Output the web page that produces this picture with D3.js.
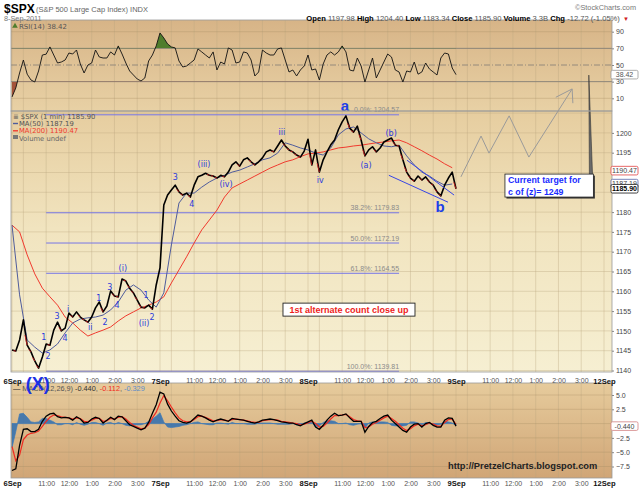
<!DOCTYPE html>
<html><head><meta charset="utf-8">
<script src="https://cdn.jsdelivr.net/npm/d3@7"></script>
<style>body{margin:0;background:#fff}svg{display:block}</style>
</head><body>
<svg id="c" width="640" height="488"></svg>
<script>
// ---------------- DATA ----------------
const dayLabels = ["6Sep","7Sep","8Sep","9Sep","12Sep"];
const hourLabels = ["11:00","12:00","1:00","2:00","3:00"];
const hourOffsets = [90,150,210,270,330];      // minutes after the 9:30 open
const gridOffsets = [0,30,90,150,210,270,330];
const SESSION = 390, BAR_STEP = 10, MA_STEP = 20;

// $SPX close, sampled every 10 trading minutes from 6 Sep 9:30
const spxClose = [
1145.2,1144.9,1147.7,1152.8,1146.4,1144.7,1142.4,1140.6,1143.4,1146.7,
1146.4,1150.2,1152.2,1150.0,1150.7,1154.5,1153.5,1154.8,1153.5,1152.8,
1152.2,1153.5,1155.8,1157.3,1154.8,1156.3,1160.1,1158.8,1158.6,1163.1,
1162.6,1160.8,1159.6,1157.8,1156.0,1155.8,1156.5,1155.5,1161.6,1165.9,
1181.8,1184.3,1185.6,1186.8,1185.1,1184.3,1184.8,1183.8,1186.8,1188.9,
1189.3,1189.8,1189.3,1189.1,1188.6,1189.3,1188.9,1190.1,1191.9,1192.7,
1191.6,1193.2,1193.7,1192.7,1191.9,1192.7,1193.7,1195.2,1195.7,1195.2,
1196.7,1198.2,1196.7,1195.7,1195.2,1194.4,1193.9,1195.4,1198.4,
1191.9,1195.7,1190.1,1193.2,1195.2,1197.0,1198.2,1200.8,1202.8,1204.3,
1201.2,1200.2,1201.7,1198.2,1194.2,1195.7,1196.5,1195.2,1196.2,1197.7,
1198.2,1198.7,1196.9,1196.7,1193.2,1190.1,1188.6,1187.8,1189.1,1188.1,
1188.9,1187.6,1186.8,1185.1,1184.1,1186.8,1188.6,1190.1,1185.9];

// moving averages, every 20 trading minutes
const ma50 = [
1176.7,1159.1,1147.7,1145.9,1144.4,1145.2,1146.7,1149.5,1152.0,1153.0,
1153.3,1153.5,1154.0,1155.3,1157.3,1160.3,1161.6,1160.3,1157.8,1156.0,
1159.6,1171.7,1182.3,1184.8,1184.8,1186.3,1187.6,1188.6,1189.3,1190.1,
1190.6,1191.4,1192.2,1193.2,1193.7,1194.9,1197.5,1196.9,1196.2,1195.7,
1194.9,1194.4,1196.2,1199.5,1201.0,1201.5,1200.0,1198.5,1197.5,1196.7,
1196.5,1196.9,1194.2,1191.9,1190.1,1189.1,1187.8,1186.8,1187.1];
const ma200 = [
1176.7,1175.0,1169.2,1164.4,1160.8,1158.6,1156.5,1153.5,1152.0,1150.2,
1148.7,1149.5,1150.2,1151.0,1152.5,1153.8,1154.8,1155.8,1156.5,1157.3,
1158.6,1162.1,1165.4,1168.7,1172.2,1175.5,1178.0,1180.5,1183.8,1186.1,
1187.1,1188.1,1189.1,1190.1,1191.1,1191.9,1192.7,1193.2,1194.0,1194.7,
1194.9,1195.2,1195.7,1196.2,1196.4,1196.7,1196.9,1197.2,1197.5,1197.7,
1198.0,1198.2,1197.5,1196.5,1195.5,1194.4,1193.4,1192.2,1191.2];

// RSI(14), every 10 trading minutes
const rsi14 = [
11.6,22.4,40.4,56,39,32,29.6,42.8,62,63,
71.7,62,52.4,53.6,56,64.4,63.2,68,51.2,40.4,
50,52.4,68,59.6,58.4,58.4,65.7,62,72.9,63.2,
52.4,42.8,38,33.2,30.8,34.4,54.8,62,72.9,88.5,
82.5,75.3,71.7,70.5,54.8,47.6,48.8,52.4,56,69.3,
65.7,62,58.4,65.7,44,53.6,51.2,70.5,68,52.4,
53.6,65.7,64.4,56,36.8,41.6,68,64.4,62,62,
69.3,70.5,56,41.6,44,36.8,44,48.8,62,44,
45.2,32,51.2,62,65.7,62,65.7,72.9,65.7,44,
42.8,58.4,48.8,29.6,44,58.4,34.4,44,53.6,63.2,
59.6,44,41.6,29.6,42.8,41.6,53.6,39,41.6,52.4,
45.2,41.6,38,58.4,64.4,63.2,46.4,38.42];

// MACD(12,26,9), every 10 trading minutes
const macdLine = [
-8.2,-7.9,-3.8,-1.0,-0.9,-1.4,-1.4,-1.0,0.4,1.3,
1.7,1.8,1.2,1.0,1.1,1.0,0.6,1.2,0.8,0.1,
0.2,0.8,1.1,0.9,0.1,0.6,1.1,0.7,1.3,1.2,
0.5,-0.2,-0.5,-0.8,-1.1,-0.8,0.2,1.8,3.3,5.5,
5.2,3.4,2.2,1.3,0.5,0.2,0.1,0.3,0.9,1.5,
1.3,1.0,0.6,0.3,0.6,0.8,0.6,0.4,0.9,0.8,
0.7,0.6,0.4,0.2,0.1,0.3,0.6,0.7,0.8,0.7,
0.5,0.3,0.2,0.1,0.1,-0.2,-0.4,0.0,0.3,0.6,
-0.6,-1.0,-0.3,0.6,1.3,1.8,1.4,1.5,1.7,1.0,
0.4,0.4,0.4,-1.5,-0.5,0.2,0.4,0.9,1.3,1.5,
0.6,0.0,-0.6,-1.2,-1.5,-0.6,-0.1,0.0,-0.6,0.0,
0.2,-0.3,-0.6,-0.6,0.6,1.0,0.9,-0.44];
const macdSignal = [
-4.0,-6.5,-5.5,-2.8,-2.0,-1.7,-1.6,-1.3,-0.5,0.4,
1.1,1.5,1.4,1.2,1.1,1.0,0.8,1.0,0.9,0.4,
0.3,0.6,0.9,0.9,0.4,0.5,0.9,0.8,1.1,1.2,
0.8,0.2,-0.3,-0.6,-0.9,-0.8,-0.2,1.0,2.0,3.6,
4.9,4.0,2.9,1.9,1.0,0.5,0.3,0.3,0.7,1.2,
1.3,1.1,0.8,0.5,0.5,0.7,0.6,0.5,0.7,0.8,
0.7,0.6,0.5,0.3,0.2,0.2,0.5,0.6,0.7,0.7,
0.6,0.4,0.3,0.2,0.1,0.0,-0.2,-0.1,0.1,0.4,
0.0,-0.6,-0.5,0.1,0.8,1.4,1.4,1.5,1.6,1.2,
0.7,0.5,0.4,-0.7,-0.6,-0.1,0.2,0.6,1.0,1.3,
0.9,0.4,-0.2,-0.8,-1.2,-0.9,-0.4,-0.1,-0.4,-0.2,
0.1,-0.1,-0.4,-0.5,0.2,0.7,0.8,-0.11];

// 1185 and 1190 labels sit under the value boxes in the reference
const priceTicks = [1140,1145,1150,1155,1160,1165,1170,1175,1180,1195,1200];
const priceGrid  = [1140,1145,1150,1155,1160,1165,1170,1175,1180,1185,1190,1195,1200,1205];
const rsiTicks = [10,30,50,70,90];
const macdTicks = [5.0,2.5,-2.5,-5.0,-7.5];
const macdGrid = [5.0,2.5,0,-2.5,-5.0,-7.5];

const fibPct = ["0.0%","38.2%","50.0%","61.8%","100.0%"];
const fibVal = [1204.57,1179.83,1172.19,1164.55,1139.81];
const fibFrom = 90, fibTo = 1020;

const waveText  = ["1","2","3","4","i","ii","1","2","3","4","(i)","(ii)","1","2","3","4","(iii)","(iv)","iii","iv","(a)","(b)"];
const waveTime  = [84,95,119,140,148,206,229,245,258,277,292,348,353,369,430,474,506,564,711,812,933,999];
const wavePrice = [1148.5,1143.7,1153.8,1148.2,1155.5,1151.0,1158.3,1152.2,1161.1,1156.5,1165.9,1152.0,1159.1,1153.5,1188.9,1182.0,1192.1,1187.1,1200.2,1188.1,1191.9,1200.0];
const bigText = ["a","b"], bigTime = [877,1128], bigPrice = [1206.8,1181.3];

const chanLower = [[993,1189.3],[1149,1182.5]];
const chanUpper = [[1041,1193.1],[1165,1184.3]];
const projTime  = [1183,1236,1257,1310,1362,1476];
const projPrice = [1188.9,1199.2,1194.9,1204.3,1193.9,1211.1];
const arrowBarbs = [[1433,1209.0],[1476,1211.1],[1478,1207.5]];

// ---------------- LAYOUT ----------------
const svg = d3.select("#c");
const L = 11, R = 612;
const P = {rsi:[20,111], main:[111,372], macd:[383,478]};
const x  = d3.scaleLinear().domain([0,1560]).range([12,604]);
const yP = d3.scaleLinear().domain([1140,1200]).range([370.5,132.9]);
const yR = d3.scaleLinear().domain([10,90]).range([98.3,31.7]);
const yM = d3.scaleLinear().domain([-7.5,5]).range([466.5,395]);
const FS = "DejaVu Sans, Verdana, sans-serif";
const FA = "Liberation Sans, Arial, sans-serif";

const defs = svg.append("defs");
function grad(id, stops){
  const g = defs.append("linearGradient").attr("id",id).attr("x1",0).attr("x2",0).attr("y1",0).attr("y2",1);
  stops.forEach(s=>g.append("stop").attr("offset",s[0]).attr("stop-color",s[1]));
}
grad("gR",[[0,"#d7b487"],[1,"#e8d1a5"]]);
grad("gM",[[0,"#e6cd9f"],[0.45,"#f1e4bf"],[1,"#f6efd2"]]);
grad("gC",[[0,"#e6cb9c"],[1,"#d0a576"]]);

[["rsi","gR"],["main","gM"],["macd","gC"]].forEach(([k,g])=>{
  svg.append("rect").attr("x",L).attr("y",P[k][0]).attr("width",R-L).attr("height",P[k][1]-P[k][0])
     .attr("fill",`url(#${g})`);
});

// vertical gridlines
const vTimes = [];
dayLabels.forEach((d,i)=>{ (i<4?gridOffsets:[0]).forEach(o=>vTimes.push(i*SESSION+o)); });
Object.keys(P).forEach(k=>{
  svg.append("g").selectAll("line").data(vTimes).join("line")
    .attr("x1",d=>x(d)).attr("x2",d=>x(d)).attr("y1",P[k][0]).attr("y2",P[k][1])
    .attr("stroke","#b9a47e").attr("stroke-opacity",0.45).attr("stroke-width",0.8);
});

// horizontal gridlines
svg.append("g").selectAll("line").data(priceGrid).join("line")
  .attr("x1",L).attr("x2",R).attr("y1",d=>yP(d)).attr("y2",d=>yP(d))
  .attr("stroke","#b9a47e").attr("stroke-opacity",0.45).attr("stroke-width",0.8);
svg.append("g").selectAll("line").data(macdGrid).join("line")
  .attr("x1",L).attr("x2",R).attr("y1",d=>yM(d)).attr("y2",d=>yM(d))
  .attr("stroke","#a88f66").attr("stroke-opacity",0.45).attr("stroke-width",0.8);
svg.append("g").selectAll("line").data([10,90]).join("line")
  .attr("x1",L).attr("x2",R).attr("y1",d=>yR(d)).attr("y2",d=>yR(d))
  .attr("stroke","#a88f66").attr("stroke-opacity",0.45).attr("stroke-width",0.8);
svg.append("g").selectAll("line").data([30,70]).join("line")
  .attr("x1",L).attr("x2",R).attr("y1",d=>yR(d)).attr("y2",d=>yR(d))
  .attr("stroke","#8c8578").attr("stroke-width",1);
svg.append("line").attr("x1",L).attr("x2",R).attr("y1",yR(50)).attr("y2",yR(50))
  .attr("stroke","#8c8578").attr("stroke-width",0.9).attr("stroke-dasharray","6,2,1,2");

// ---------------- RSI ----------------
const tx = (d,i)=>x(i*BAR_STEP);
defs.append("clipPath").attr("id","ab70").append("rect").attr("x",L).attr("y",P.rsi[0]).attr("width",R-L).attr("height",yR(70)-P.rsi[0]);
defs.append("clipPath").attr("id","be30").append("rect").attr("x",L).attr("y",yR(30)).attr("width",R-L).attr("height",P.rsi[1]-yR(30));
svg.append("path").datum(rsi14).attr("clip-path","url(#ab70)").attr("fill","#4f7d2c")
  .attr("d",d3.area().x(tx).y0(yR(70)).y1(d=>yR(d)));
svg.append("path").datum(rsi14).attr("clip-path","url(#be30)").attr("fill","#a4533a")
  .attr("d",d3.area().x(tx).y0(yR(30)).y1(d=>yR(d)));
svg.append("path").datum(rsi14).attr("fill","none").attr("stroke","#111").attr("stroke-width",0.9)
  .attr("d",d3.line().x(tx).y(d=>yR(d)));
svg.append("path").attr("d",d3.symbol(d3.symbolTriangle,14)()).attr("transform","translate(15,26)").attr("fill","#4f7d2c");
svg.append("text").attr("x",19).attr("y",28.5).attr("font-family",FS).attr("font-size",7).attr("fill","#555").text("RSI(14) 38.42");

// ---------------- MAIN ----------------
// Fibonacci lines
svg.append("g").selectAll("line").data(fibVal).join("line")
  .attr("x1",x(fibFrom)).attr("x2",x(fibTo)).attr("y1",d=>yP(d)).attr("y2",d=>yP(d))
  .attr("stroke","#7676e6").attr("stroke-width",1);
svg.append("g").selectAll("text").data(fibVal).join("text")
  .attr("x",x(fibTo)).attr("y",d=>yP(d)-2.5).attr("text-anchor","end")
  .attr("font-family",FA).attr("font-size",7).attr("fill","#8a8a8a")
  .text((d,i)=>`${fibPct[i]}: ${d.toFixed(2)}`);

const mx = (d,i)=>x(i*MA_STEP);
svg.append("path").datum(ma200).attr("fill","none").attr("stroke","#f03a2e").attr("stroke-width",1)
  .attr("d",d3.line().x(mx).y(d=>yP(d)));
svg.append("path").datum(ma50).attr("fill","none").attr("stroke","#4f5c9c").attr("stroke-width",1)
  .attr("d",d3.line().x(mx).y(d=>yP(d)));

// price
svg.append("path").datum(spxClose).attr("fill","none").attr("stroke","#000").attr("stroke-width",1.6)
  .attr("stroke-linejoin","round").attr("d",d3.line().x(tx).y(d=>yP(d)));
const downs = spxClose.map((d,i)=>i).filter(i=>i>0 && spxClose[i]<spxClose[i-1]);
svg.append("g").selectAll("line").data(downs).join("line")
  .attr("x1",i=>x((i-1)*BAR_STEP)+0.4*(x(BAR_STEP)-x(0))).attr("x2",i=>x(i*BAR_STEP))
  .attr("y1",i=>yP(spxClose[i-1]+0.6*(spxClose[i]-spxClose[i-1]))).attr("y2",i=>yP(spxClose[i]))
  .attr("stroke","#e02020").attr("stroke-width",0.8);

// channel lines
[chanLower,chanUpper].forEach(c=>{
  svg.append("line").attr("x1",x(c[0][0])).attr("y1",yP(c[0][1])).attr("x2",x(c[1][0])).attr("y2",yP(c[1][1]))
    .attr("stroke","#3846e6").attr("stroke-width",1);
});

// projection path
svg.append("path").datum(projTime).attr("fill","none").attr("stroke","#9a9a9a").attr("stroke-width",1)
  .attr("d",d3.line().x(d=>x(d)).y((d,i)=>yP(projPrice[i])));
svg.append("path").datum(arrowBarbs).attr("fill","none").attr("stroke","#9a9a9a").attr("stroke-width",1)
  .attr("d",d3.line().x(d=>x(d[0])).y(d=>yP(d[1])));

// wave labels
svg.append("g").selectAll("text").data(waveText).join("text")
  .attr("x",(d,i)=>x(waveTime[i])).attr("y",(d,i)=>yP(wavePrice[i])+3)
  .attr("text-anchor","middle").attr("font-family",FS).attr("font-size",8).attr("fill","#2b3bdc").text(d=>d);
svg.append("g").selectAll("text").data(bigText).join("text")
  .attr("x",(d,i)=>x(bigTime[i])).attr("y",(d,i)=>yP(bigPrice[i])+5)
  .attr("text-anchor","middle").attr("font-family",FA).attr("font-size",15).attr("font-weight","bold").attr("fill","#2040e8").text(d=>d);

// legend
const leg = svg.append("g").attr("font-family",FS).attr("font-size",6.8);
leg.append("text").attr("x",13).attr("y",118.5).attr("fill","#555").text("\u2263 $SPX (1 min) 1185.90");
leg.append("line").attr("x1",13).attr("x2",18).attr("y1",123.5).attr("y2",123.5).attr("stroke","#4f5c9c").attr("stroke-width",1.4);
leg.append("text").attr("x",19).attr("y",126).attr("fill","#555").text("MA(50) 1187.19");
leg.append("line").attr("x1",13).attr("x2",18).attr("y1",130.8).attr("y2",130.8).attr("stroke","#f03a2e").attr("stroke-width",1.4);
leg.append("text").attr("x",19).attr("y",133.3).attr("fill","#f03a2e").text("MA(200) 1190.47");
leg.append("rect").attr("x",13).attr("y",135).attr("width",5).attr("height",4).attr("fill","#777");
leg.append("text").attr("x",19).attr("y",140.5).attr("fill","#666").text("Volume undef");

// "1st alternate count" box
const altX = x(888), altY = yP(1155.5);
svg.append("rect").attr("x",altX-66).attr("y",altY-6).attr("width",132).attr("height",13)
  .attr("fill","#fff").attr("stroke","#222").attr("stroke-width",0.9);
svg.append("text").attr("x",altX).attr("y",altY+3.5).attr("text-anchor","middle").attr("font-family",FA)
  .attr("font-weight","bold").attr("font-size",9).attr("fill","#ee1c1c").text("1st alternate count close up");

// callout
const cx0 = x(1299), cx1 = x(1532), cy0 = yP(1189.6), cy1 = yP(1183.8);
const tip = [x(1520), yP(1214.6)];
svg.append("polygon").attr("points",`${tip[0]},${tip[1]} ${cx1-4},${cy0} ${cx1},${cy1}`)
  .attr("fill","#6a6a6a").attr("stroke","#333").attr("stroke-width",0.6);
svg.append("rect").attr("x",cx0+1.5).attr("y",cy0+1.5).attr("width",cx1-cx0).attr("height",cy1-cy0).attr("fill","#333");
svg.append("rect").attr("x",cx0).attr("y",cy0).attr("width",cx1-cx0).attr("height",cy1-cy0)
  .attr("fill","#fff").attr("stroke","#222").attr("stroke-width",0.8);
svg.append("text").attr("x",cx0+3).attr("y",cy0+9).attr("font-family",FA).attr("font-weight","bold").attr("font-size",8.8)
  .attr("fill","#1a2cff").text("Current target for");
svg.append("text").attr("x",cx0+3).attr("y",cy0+20.5).attr("font-family",FA).attr("font-weight","bold").attr("font-size",8.8)
  .attr("fill","#1a2cff").text("c of (z)= 1249");

// ---------------- MACD ----------------
const hist = macdLine.map((d,i)=>d-macdSignal[i]);
svg.append("path").datum(hist).attr("fill","#2e6db0").attr("fill-opacity",0.85).attr("stroke","#3b78b8").attr("stroke-width",0.7)
  .attr("d",d3.area().x(tx).y0(yM(0)).y1(d=>yM(d)));
svg.append("path").datum(macdSignal).attr("fill","none").attr("stroke","#f02a20").attr("stroke-width",1.2)
  .attr("d",d3.line().x(tx).y(d=>yM(d)));
svg.append("path").datum(macdLine).attr("fill","none").attr("stroke","#000").attr("stroke-width",1.3)
  .attr("d",d3.line().x(tx).y(d=>yM(d)));
const ml = svg.append("text").attr("x",13).attr("y",391).attr("font-family",FA).attr("font-size",7.3).attr("fill","#555");
ml.append("tspan").attr("fill","#222").text("\u2014 ");
ml.append("tspan").text("MACD(12,26,9) ");
ml.append("tspan").attr("fill","#333").text("-0.440");
ml.append("tspan").text(", ");
ml.append("tspan").attr("fill","#f02a20").text("-0.112");
ml.append("tspan").text(", ");
ml.append("tspan").attr("fill","#5a8cc8").text("-0.329");
svg.append("text").attr("x",448).attr("y",469).attr("font-family",FA).attr("font-weight","bold").attr("font-size",9.3)
  .attr("fill","#222").text("http://PretzelCharts.blogspot.com");

// panel borders
Object.keys(P).forEach(k=>{
  svg.append("rect").attr("x",L).attr("y",P[k][0]).attr("width",R-L).attr("height",P[k][1]-P[k][0])
     .attr("fill","none").attr("stroke","#9a9a9a").attr("stroke-width",0.8);
});

// ---------------- AXES ----------------
function styleAxis(g){ g.select(".domain").remove(); g.selectAll("text").attr("font-family",FA).attr("font-size",7).attr("fill","#444"); g.selectAll("line").attr("stroke","#888"); }
svg.append("g").attr("transform",`translate(${R},0)`).call(d3.axisRight(yP).tickValues(priceTicks).tickFormat(d3.format("d")).tickSize(2).tickPadding(2)).call(styleAxis);
svg.append("g").attr("transform",`translate(${R},0)`).call(d3.axisRight(yR).tickValues(rsiTicks).tickFormat(d3.format("d")).tickSize(2).tickPadding(2)).call(styleAxis);
svg.append("g").attr("transform",`translate(${R},0)`).call(d3.axisRight(yM).tickValues(macdTicks).tickFormat(d3.format(".1f")).tickSize(2).tickPadding(2)).call(styleAxis);

const tickTimes = [], tickText = [], tickIsDate = [];
dayLabels.forEach((d,i)=>{
  tickTimes.push(i*SESSION); tickText.push(d); tickIsDate.push(true);
  if(i<4) hourOffsets.forEach((o,j)=>{ tickTimes.push(i*SESSION+o); tickText.push(hourLabels[j]); tickIsDate.push(false); });
});
[[P.main[1],6.5],[P.macd[1],2.8]].forEach(([yy,pad])=>{
  const g = svg.append("g").attr("transform",`translate(0,${yy})`)
    .call(d3.axisBottom(x).tickValues(tickTimes).tickFormat((t,i)=>tickText[i]).tickSize(0).tickPadding(pad));
  g.select(".domain").remove();
  g.selectAll("text").attr("font-family",FA)
    .attr("font-size",(d,i)=>tickIsDate[i]?7.6:7).attr("font-weight",(d,i)=>tickIsDate[i]?"bold":"normal")
    .attr("fill",(d,i)=>tickIsDate[i]?"#111":"#555");
});

// value boxes on the right
function vbox(yv, label, stroke, color, bold){
  const g = svg.append("g");
  g.append("rect").attr("x",R-1).attr("y",yv-4.3).attr("width",27).attr("height",8.6).attr("rx",1.5)
    .attr("fill","#fff").attr("stroke",stroke).attr("stroke-width",0.8);
  g.append("text").attr("x",R+12.5).attr("y",yv+2.4).attr("text-anchor","middle").attr("font-family",FA)
    .attr("font-size",7).attr("font-weight",bold?"bold":"normal").attr("fill",color).text(label);
}
vbox(yR(38.42),"38.42","#999","#555",false);
vbox(yP(1190.47),"1190.47","#e04040","#444",false);
vbox(yP(1187.19),"1187.19","#5a66a8","#444",false);
vbox(yP(1185.90),"1185.90","#111","#000",true);
vbox(yM(-0.44),"-0.440","#d08080","#444",false);

// (X)
svg.append("text").attr("x",x(68)).attr("y",390).attr("text-anchor","middle").attr("font-family",FA)
  .attr("font-weight","bold").attr("font-size",18).attr("fill","#1a30e6").text("(X)");

// ---------------- HEADER ----------------
svg.append("text").attr("x",4).attr("y",13).attr("font-family",FA).attr("font-weight","bold").attr("font-size",12).attr("fill","#000").text("$SPX");
svg.append("text").attr("x",36).attr("y",12).attr("font-family",FA).attr("font-size",7.5).attr("fill","#666").text("(S&P 500 Large Cap Index) INDX");
svg.append("text").attr("x",4).attr("y",21).attr("font-family",FA).attr("font-size",7.3).attr("fill","#777").text("8-Sep-2011");
svg.append("text").attr("x",636).attr("y",10).attr("text-anchor","end").attr("font-family",FA).attr("font-size",7.3).attr("fill","#777").text("\u00a9StockCharts.com");
const hdr = [["Open",1],[" 1197.98 ",0],["High",1],[" 1204.40 ",0],["Low",1],[" 1183.34 ",0],["Close",1],[" 1185.90 ",0],["Volume",1],[" 3.3B ",0],["Chg",1],[" -12.72 (-1.05%) ",0]];
const ht = svg.append("text").attr("x",622).attr("y",21).attr("text-anchor","end").attr("font-family",FA).attr("font-size",7.6).attr("xml:space","preserve");
hdr.forEach(([t,b])=>ht.append("tspan").attr("font-weight",b?"bold":"normal").attr("fill",b?"#000":"#555").text(t));
svg.append("text").attr("x",623).attr("y",20.5).attr("font-family",FA).attr("font-size",6).attr("fill","#d02020").text("\u25BC");
</script>
</body></html>
